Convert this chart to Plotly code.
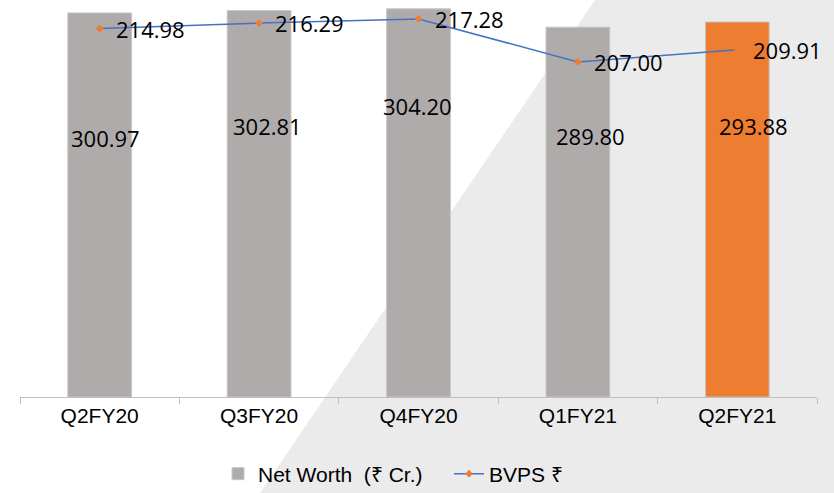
import plotly.graph_objects as go

# Quarterly figures
quarters = ["Q2FY20", "Q3FY20", "Q4FY20", "Q1FY21", "Q2FY21"]
net_worth = [300.97, 302.81, 304.20, 289.80, 293.88]
bvps = [214.98, 216.29, 217.28, 207.00, 209.91]

bar_colors = ["#AFABAB", "#AFABAB", "#AFABAB", "#AFABAB", "#ED7D31"]

# Placement of the value labels inside the bars (pixels from plot top, x nudge)
bar_label_top_px = [138, 126, 106, 136, 126]
bar_label_xshift = [6, 8, -1, 13, 16]

PLOT_H = 397
PLOT_L, PLOT_R = 20, 817
PLOT_W = PLOT_R - PLOT_L

num_font = dict(family="Open Sans, Noto Sans, sans-serif", size=22, color="#000000")
txt_font = dict(family="Liberation Sans Narrow, Liberation Sans, Arial, sans-serif",
                size=21, color="#000000")

fig = go.Figure()

fig.add_trace(go.Bar(
    x=quarters, y=net_worth, name="Net Worth\u00a0 (₹ Cr.)",
    marker=dict(color=bar_colors, line=dict(color="#C8C5C5", width=1)),
    width=0.4, yaxis="y",
))

fig.add_trace(go.Scatter(
    x=quarters, y=bvps, name="BVPS ₹", yaxis="y2",
    mode="lines+markers",
    line=dict(color="#4472C4", width=1.5),
    marker=dict(symbol="diamond", size=6, color="#ED7D31"),
))

annotations = []
for q, v, top, dx in zip(quarters, net_worth, bar_label_top_px, bar_label_xshift):
    annotations.append(dict(
        x=q, xref="x", y=1 - top / PLOT_H, yref="paper",
        text=f"{v:.2f}", showarrow=False, xshift=dx,
        xanchor="center", yanchor="middle", font=num_font,
    ))
for q, v in zip(quarters, bvps):
    annotations.append(dict(
        x=q, xref="x", y=v, yref="y2",
        text=f"{v:.2f}", showarrow=False, xshift=14,
        xanchor="left", yanchor="middle", font=num_font,
    ))

# Light diagonal backdrop panel on the right
def px_to_paper(px, py):
    return (px - PLOT_L) / PLOT_W, 1 - py / PLOT_H

pts = [px_to_paper(595, 0), px_to_paper(834, 0), px_to_paper(834, 493), px_to_paper(260, 493)]
path = "M " + " L ".join(f"{x:.4f},{y:.4f}" for x, y in pts) + " Z"

fig.update_layout(
    width=834, height=493,
    margin=dict(l=PLOT_L, r=834 - PLOT_R, t=0, b=493 - PLOT_H, autoexpand=False),
    paper_bgcolor="#FFFFFF",
    plot_bgcolor="rgba(0,0,0,0)",
    showlegend=True,
    legend=dict(
        orientation="h", x=(218 - PLOT_L) / PLOT_W, xanchor="left",
        y=1 - 474 / PLOT_H, yanchor="middle",
        bgcolor="rgba(0,0,0,0)", font=txt_font, itemwidth=30,
        entrywidth=186, entrywidthmode="pixels",
    ),
    xaxis=dict(
        range=[-0.5, len(quarters) - 0.5],
        showline=True, linecolor="#BFBFBF", linewidth=1,
        ticks="outside", tickson="boundaries", ticklen=6, tickcolor="#BFBFBF",
        tickfont=txt_font, showgrid=False, zeroline=False,
    ),
    yaxis=dict(range=[0, 311.1], visible=False, showgrid=False, zeroline=False),
    yaxis2=dict(range=[126.97, 221.8], overlaying="y", side="right",
                visible=False, showgrid=False, zeroline=False),
    annotations=annotations,
    shapes=[dict(type="path", path=path, xref="paper", yref="paper",
                 fillcolor="#EBEBEB", line=dict(width=0), layer="below")],
)

fig.write_html("out.html")
